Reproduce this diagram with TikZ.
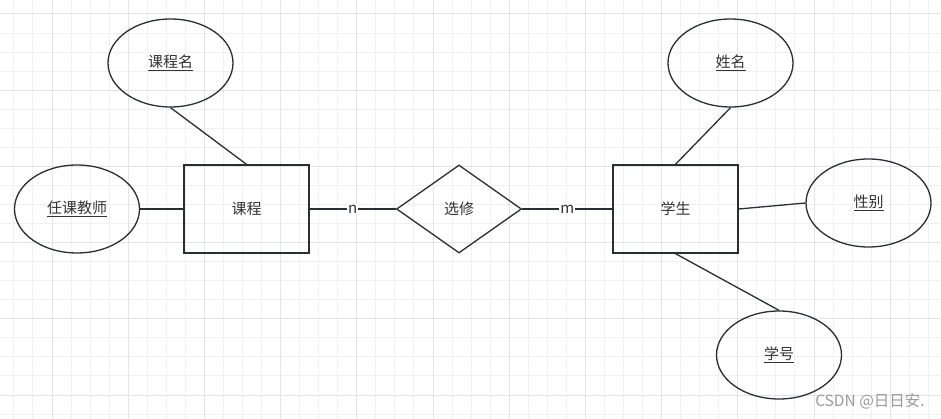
\documentclass[tikz,border=0pt]{standalone}
\usepackage{fontspec}
\setmainfont{Noto Sans CJK SC}
\usepackage{xcolor}
\usepackage{tikz}
\usetikzlibrary{positioning,shapes.geometric}
\definecolor{linec}{HTML}{2A2E33}
\definecolor{textc}{HTML}{333333}
\definecolor{gridminor}{HTML}{F0F0F0}
\definecolor{gridmajor}{HTML}{E3E3E3}
\definecolor{markc}{HTML}{9A9A9A}

\begin{document}
\begin{tikzpicture}[x=1pt,y=-1pt,font=\fontsize{15}{18}\selectfont,
  ent/.style={draw=linec,line width=1.3pt,rectangle,minimum width=125pt,
              minimum height=88pt,text=textc,inner sep=0pt},
  attr/.style={draw=linec,line width=1.3pt,ellipse,minimum width=125pt,
               minimum height=88pt,text=textc,inner sep=0pt},
  rel/.style={draw=linec,line width=1.3pt,diamond,minimum width=125pt,
              minimum height=88pt,text=textc,inner sep=0pt},
  link/.style={draw=linec,line width=1.3pt},
  card/.style={fill=white,text=textc,inner sep=1pt},
]
\useasboundingbox (0,0) rectangle (941,419);
\fill[white] (0,0) rectangle (941,419);
% grid
\foreach \k in {0,...,48} { \draw[gridminor,line width=1pt] (13.9+19.05*\k,0) -- (13.9+19.05*\k,419); }
\foreach \k in {0,...,21} { \draw[gridminor,line width=1pt] (0,14+19.05*\k) -- (941,14+19.05*\k); }
\foreach \k in {0,...,11} { \draw[gridmajor,line width=1pt] (52+76.2*\k,0) -- (52+76.2*\k,419); }
\foreach \k in {0,...,5}  { \draw[gridmajor,line width=1pt] (0,14+76.2*\k) -- (941,14+76.2*\k); }

% entities and relation
\node[ent]  (course)  at (246.5,209) {课程};
\node[rel]  (select)  at (459,209)   {选修};
\node[ent]  (student) at (675.5,209) {学生};

% attributes
\node[attr] (cname)   at (170.5,63)  {\underline{课程名}};
\node[attr] (teacher) at (77,209)    {\underline{任课教师}};
\node[attr] (sname)   at (730.5,63)  {\underline{姓名}};
\node[attr] (sex)     at (868.5,203) {\underline{性别}};
\node[attr] (sno)     at (779,355)   {\underline{学号}};

% connectors
\draw[link] (cname.south) -- (course.north);
\draw[link] (teacher) -- (course);
\draw[link] (course) -- node[card] {n} (select);
\draw[link] (select) -- node[card] {m} (student);
\draw[link] (student.north) -- (sname.south);
\draw[link] (student.east) -- (sex.west);
\draw[link] (student.south) -- (sno.north);

\node[text=markc,font=\fontsize{15.5}{18}\selectfont] (mark) at (870,401) {CSDN @日日安.};
\end{tikzpicture}
\end{document}
